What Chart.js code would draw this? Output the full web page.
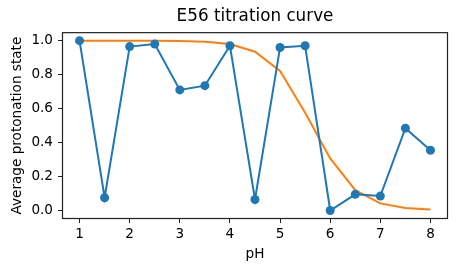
<!DOCTYPE html>
<html>
<head>
<meta charset="utf-8">
<script src="https://cdn.jsdelivr.net/npm/chart.js@4.4.0/dist/chart.umd.min.js"></script>
<style>
  html, body { margin: 0; padding: 0; background: #fff; }
  #wrap { width: 457px; height: 271px; }
</style>
</head>
<body>
<div id="wrap"><canvas id="chart" width="457" height="271"></canvas></div>
<script>
'use strict';
// pH grid and values
const phValues = [1, 1.5, 2, 2.5, 3, 3.5, 4, 4.5, 5, 5.5, 6, 6.5, 7, 7.5, 8];
const simulated = [1.0, 0.075, 0.965, 0.98, 0.71, 0.735, 0.97, 0.065, 0.96, 0.97, 0.0, 0.095, 0.085, 0.485, 0.355];
const fitted = [1.0, 1.0, 1.0, 1.0, 0.998, 0.993, 0.98, 0.935, 0.822, 0.575, 0.307, 0.12, 0.042, 0.015, 0.006];
const xTicks = [1, 2, 3, 4, 5, 6, 7, 8];
const yTicks = [0, 0.2, 0.4, 0.6, 0.8, 1.0];

const pts = ys => phValues.map((x, i) => ({ x, y: ys[i] }));

const frame = {
  id: 'frame',
  afterDraw(chart) {
    const { ctx, chartArea: a } = chart;
    ctx.save();
    ctx.strokeStyle = '#222';
    ctx.lineWidth = 1.2;
    ctx.strokeRect(a.left + 0.5, a.top + 0.5, a.right - a.left - 1, a.bottom - a.top - 1);
    ctx.restore();
  }
};

const font = { family: 'DejaVu Sans', size: 13.6 };
const tickGrid = { display: true, drawOnChartArea: false, drawTicks: true, tickLength: 4, color: '#222' };

new Chart(document.getElementById('chart').getContext('2d'), {
  type: 'line',
  data: {
    datasets: [
      {
        data: pts(simulated),
        borderColor: '#1f77b4',
        backgroundColor: '#1f77b4',
        borderWidth: 2,
        pointRadius: 4.5,
        pointBorderWidth: 0,
        tension: 0
      },
      {
        data: pts(fitted),
        borderColor: '#ff7f0e',
        borderWidth: 2,
        pointRadius: 0,
        tension: 0
      }
    ]
  },
  options: {
    responsive: false,
    animation: false,
    devicePixelRatio: 1,
    layout: { padding: { left: 0, right: 9, top: 0, bottom: 0 } },
    plugins: {
      legend: { display: false },
      tooltip: { enabled: false },
      title: {
        display: true,
        fullSize: false,
        text: 'E56 titration curve',
        color: '#000',
        font: { family: 'DejaVu Sans', size: 16.8, weight: 'normal' },
        padding: { top: 7, bottom: 5 }
      }
    },
    scales: {
      x: {
        type: 'linear',
        min: 0.65,
        max: 8.35,
        afterBuildTicks: s => { s.ticks = xTicks.map(v => ({ value: v })); },
        afterFit: s => { s.height = 52; },
        grid: tickGrid,
        border: { display: false },
        ticks: { color: '#000', font, padding: 3, maxRotation: 0, callback: v => String(v) },
        title: { display: true, text: 'pH', color: '#000', font, padding: { top: 0, bottom: 8.5 } }
      },
      y: {
        type: 'linear',
        min: -0.05,
        max: 1.05,
        afterBuildTicks: s => { s.ticks = yTicks.map(v => ({ value: v })); },
        afterFit: s => { s.width = 62; },
        grid: tickGrid,
        border: { display: false },
        ticks: { color: '#000', font, padding: 5, callback: v => v.toFixed(1) },
        title: { display: true, text: 'Average protonation state', color: '#000', font, padding: { top: 9.5, bottom: 0 } }
      }
    }
  },
  plugins: [frame]
});
</script>
</body>
</html>
